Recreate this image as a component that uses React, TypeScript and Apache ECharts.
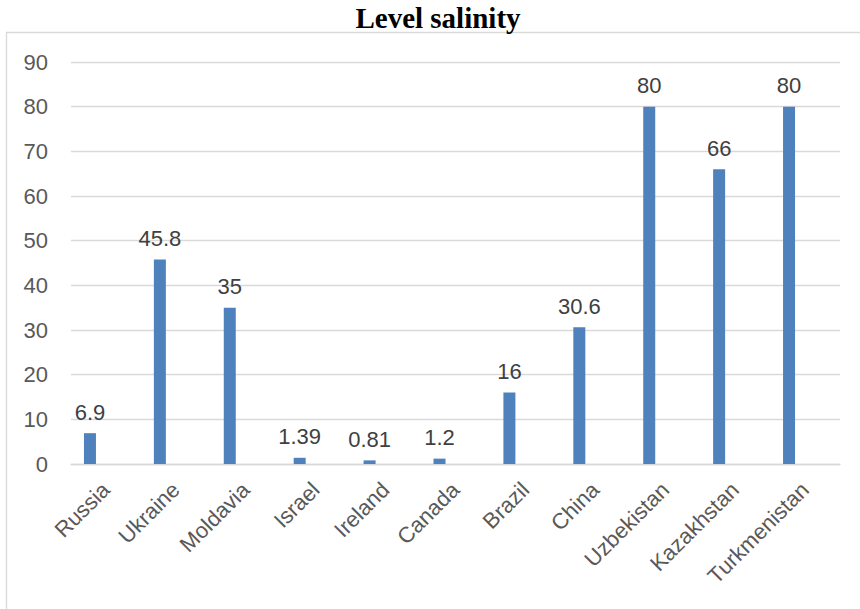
import React, { useEffect, useRef } from "react";
import * as echarts from "echarts";

const categories = ["Russia", "Ukraine", "Moldavia", "Israel", "Ireland", "Canada", "Brazil", "China", "Uzbekistan", "Kazakhstan", "Turkmenistan"];
const salinity = [6.9, 45.8, 35, 1.39, 0.81, 1.2, 16, 30.6, 80, 66, 80];
const yMin = 0;
const yMax = 90;
const yStep = 10;
const titleText = "Level salinity";

export default function App() {
  const ref = useRef<HTMLDivElement>(null);
  useEffect(() => {
    document.body.style.margin = "0";
    const chart = echarts.init(ref.current!, null, { renderer: "svg" });
    const font = "'Liberation Sans', Arial, sans-serif";
    chart.setOption({
      animation: false,
      backgroundColor: "#fff",
      title: {
        text: titleText,
        left: 438,
        top: 3,
        padding: 0,
        textAlign: "center",
        textStyle: { fontSize: 29, fontWeight: "bold", fontFamily: "'Liberation Serif', 'Times New Roman', serif", color: "#000" },
      },
      graphic: [
        {
          type: "rect",
          shape: { x: 6.5, y: 32.5, width: 900, height: 700 },
          style: { fill: "none", stroke: "#d9d9d9", lineWidth: 1.3 },
          silent: true,
          z: -1,
        },
      ],
      grid: [
        { left: 71, right: 20, top: 62, bottom: 145 },
        { left: 55, right: 36, top: 62, bottom: 145 },
      ],
      xAxis: [
        {
          type: "category",
          gridIndex: 0,
          data: categories,
          axisLine: { lineStyle: { color: "#d9d9d9", width: 1.3 } },
          axisTick: { show: false },
          axisLabel: { rotate: 45, margin: 22, color: "#595959", fontSize: 22, fontFamily: font, interval: 0 },
          splitLine: { show: false },
        },
        {
          type: "category",
          gridIndex: 1,
          data: categories,
          show: false,
        },
      ],
      yAxis: [
        {
          type: "value",
          gridIndex: 0,
          min: yMin,
          max: yMax,
          interval: yStep,
          axisLine: { show: false },
          axisTick: { show: false },
          axisLabel: { margin: 23, color: "#595959", fontSize: 22, fontFamily: font },
          splitLine: { lineStyle: { color: "#d9d9d9", width: 1.3 } },
        },
        {
          type: "value",
          gridIndex: 1,
          min: yMin,
          max: yMax,
          interval: yStep,
          show: false,
          splitLine: { show: false },
        },
      ],
      series: [
        {
          type: "bar",
          name: titleText,
          xAxisIndex: 1,
          yAxisIndex: 1,
          data: salinity,
          barWidth: 12,
          itemStyle: { color: "#4f81bd" },
          label: { show: true, position: "top", distance: 10, color: "#404040", fontSize: 22, fontFamily: font },
        },
      ],
    });
    return () => chart.dispose();
  }, []);
  return <div ref={ref} style={{ width: 860, height: 609 }} />;
}
